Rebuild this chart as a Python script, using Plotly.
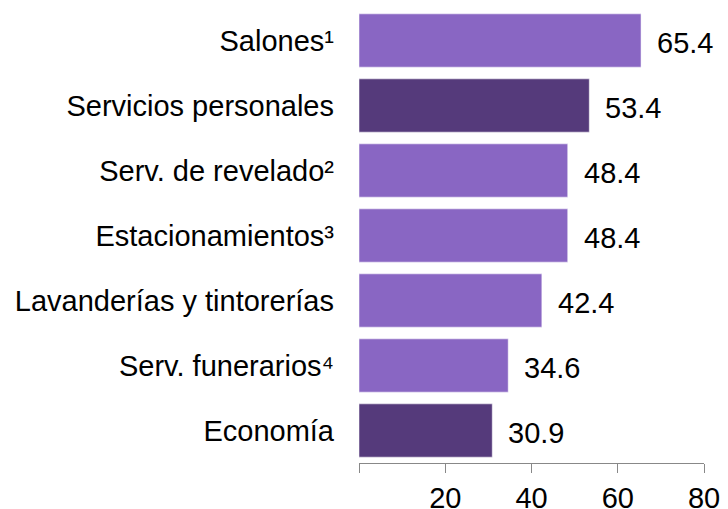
import plotly.graph_objects as go

categories = ["Salones¹", "Servicios personales", "Serv. de revelado²", "Estacionamientos³",
              "Lavanderías y tintorerías", "Serv. funerarios⁴", "Economía"]
values = [65.4, 53.4, 48.4, 48.4, 42.4, 34.6, 30.9]
highlight = [False, True, False, False, False, False, True]
tick_vals = [0, 20, 40, 60, 80]
tick_text = ["", "20", "40", "60", "80"]

LIGHT = "#8966C3"
DARK = "#553A7B"
colors = [DARK if h else LIGHT for h in highlight]
FONT = "Liberation Sans, Arial, sans-serif"
FS = 29

fig = go.Figure()
fig.add_trace(go.Bar(
    x=values, y=categories, orientation="h",
    marker=dict(color=colors, line=dict(color="rgba(255,255,255,0.5)", width=1)),
    width=0.82, hoverinfo="skip",
))
for c, v in zip(categories, values):
    fig.add_annotation(x=v, y=c, text=f"{v:.1f}", showarrow=False,
                       xanchor="left", yanchor="middle", xshift=14, yshift=-2,
                       font=dict(family=FONT, size=FS, color="#000"))

fig.update_layout(
    width=720, height=501,
    margin=dict(l=351, r=24, t=0, b=46, pad=0),
    plot_bgcolor="white", paper_bgcolor="white",
    showlegend=False,
    font=dict(family=FONT, size=FS, color="#000"),
    xaxis=dict(range=[0, 80], tickvals=tick_vals, ticktext=tick_text, automargin=False,
               showgrid=False, zeroline=False, showline=True, linecolor="#888",
               linewidth=1, ticks="outside", ticklen=9, tickcolor="#888",
               tickfont=dict(size=FS, family=FONT)),
    yaxis=dict(categoryorder="array", categoryarray=categories, autorange="reversed",
               automargin=False,
               showgrid=False, zeroline=False, showline=False, ticks="",
               ticklabelstandoff=24, tickfont=dict(size=FS, family=FONT)),
)
fig.write_html("out.html")
